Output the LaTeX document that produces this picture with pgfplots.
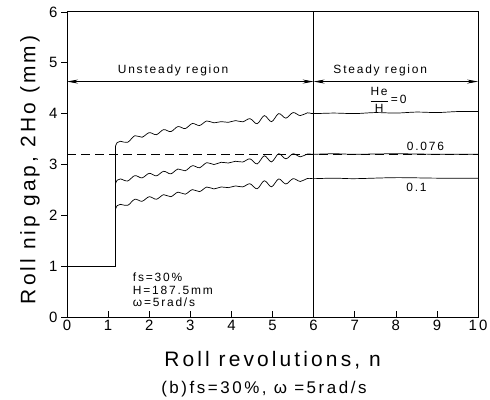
\documentclass[border=0pt]{standalone}
\usepackage{pgfplots}
\pgfplotsset{compat=1.18}
\usepackage{fontspec}
\setmainfont{Liberation Sans}
\newfontfamily\lab[LetterSpace=15]{Liberation Sans}
\usetikzlibrary{arrows.meta}
\begin{document}
\begin{tikzpicture}
\begin{axis}[
  scale only axis, width=411bp, height=305bp,
  xmin=0, xmax=10, ymin=0, ymax=6,
  xtick={0,1,...,10}, ytick={0,1,...,6},
  xtick pos=bottom, ytick pos=left,
  tick align=inside,
  major tick length=6bp,
  y tick style={xshift=-6bp},
  yticklabel style={xshift=-6bp},
  tick style={black, line width=0.6bp},
  tick label style={font=\lab\fontsize{15}{15}\selectfont},
  /pgf/number format/assume math mode=true,
  axis line style={line width=0.8bp},
  clip=false,
]
% step parts
\addplot[black, line width=0.9bp] coordinates {(0,0) (0,1) (1.18,1) (1.18,3.36)};
\addplot[black, line width=0.7bp] coordinates {(1.18,1) (1.18,2.62)};
\addplot[black, line width=0.7bp] coordinates {(1.18,1) (1.18,2.12)};
% He/H = 0
\addplot[black, line width=0.7bp, smooth, tension=0.55] coordinates {
(1.18,3.36) (1.22,3.43) (1.30,3.455) (1.475,3.435) (1.65,3.565) (1.825,3.535)
(2.0,3.625) (2.175,3.585) (2.35,3.685) (2.525,3.645) (2.7,3.745) (2.875,3.705)
(3.05,3.805) (3.225,3.765) (3.4,3.855) (3.575,3.818) (3.75,3.842) (3.925,3.828)
(4.1,3.862) (4.275,3.838) (4.45,3.90) (4.625,3.80) (4.8,3.96) (4.975,3.84)
(5.15,4.00) (5.325,3.91) (5.5,4.02) (5.675,3.96) (5.85,4.015) (6.0,4.0)
(6.5,4.01) (7.0,4.0) (7.5,4.02) (8.0,4.01) (8.5,4.03) (9.0,4.02) (9.5,4.04) (10.0,4.04)};
% He/H = 0.076
\addplot[black, line width=0.7bp, smooth, tension=0.55] coordinates {
(1.18,2.62) (1.22,2.69) (1.30,2.715) (1.475,2.675) (1.65,2.78) (1.825,2.735)
(2.0,2.825) (2.175,2.775) (2.35,2.865) (2.525,2.815) (2.7,2.91) (2.875,2.875)
(3.05,2.975) (3.225,2.935) (3.4,3.035) (3.575,2.998) (3.75,3.042) (3.925,3.028)
(4.1,3.062) (4.275,3.048) (4.45,3.11) (4.625,3.01) (4.8,3.17) (4.975,3.05)
(5.15,3.21) (5.325,3.11) (5.5,3.21) (5.675,3.15) (5.85,3.205) (6.0,3.2)
(6.5,3.21) (7.0,3.2) (8.0,3.21) (9.0,3.2) (10.0,3.2)};
% He/H = 0.1
\addplot[black, line width=0.7bp, smooth, tension=0.55] coordinates {
(1.18,2.12) (1.22,2.19) (1.30,2.215) (1.475,2.195) (1.65,2.315) (1.825,2.275)
(2.0,2.365) (2.175,2.315) (2.35,2.405) (2.525,2.365) (2.7,2.455) (2.875,2.415)
(3.05,2.505) (3.225,2.465) (3.4,2.555) (3.575,2.518) (3.75,2.557) (3.925,2.543)
(4.1,2.577) (4.275,2.558) (4.45,2.62) (4.625,2.52) (4.8,2.68) (4.975,2.56)
(5.15,2.715) (5.325,2.615) (5.5,2.72) (5.675,2.665) (5.85,2.725) (6.0,2.72)
(6.5,2.73) (7.0,2.72) (8.0,2.74) (9.0,2.73) (10.0,2.73)};
% dashed reference line and region divider
\addplot[black, line width=0.7bp, dash pattern=on 9bp off 5bp] coordinates {(0,3.2) (10,3.2)};
\addplot[black, line width=0.8bp] coordinates {(6,0) (6,6)};
% region arrows
\draw[line width=0.7bp, {Stealth[length=11bp,width=4bp]}-{Stealth[length=11bp,width=4bp]}] (axis cs:0,4.63) -- (axis cs:6,4.63);
\draw[line width=0.7bp, {Stealth[length=11bp,width=4bp]}-{Stealth[length=11bp,width=4bp]}] (axis cs:6,4.63) -- (axis cs:10,4.63);
\node[font=\lab\fontsize{12}{12}\selectfont] at (axis cs:2.58,4.85) {Unsteady region};
\node[font=\lab\fontsize{12}{12}\selectfont] at (axis cs:7.62,4.85) {Steady region};
\node[font=\lab\fontsize{12}{12}\selectfont, anchor=west, inner sep=0pt] at (axis cs:7.35,4.27)
  {$\displaystyle\frac{\mbox{He}}{\mbox{H}}$\,=\,0};
\node[font=\lab\fontsize{12}{12}\selectfont] at (axis cs:8.72,3.36) {0.076};
\node[font=\lab\fontsize{12}{12}\selectfont] at (axis cs:8.5,2.55) {0.1};
\node[font=\lab\fontsize{12}{12.5}\selectfont, anchor=north west, align=left, inner sep=0pt] at (axis cs:1.6,0.87)
  {fs=30\%\\H=187.5mm\\ω=5rad/s};
% axis labels and caption
\node[font=\lab\fontsize{21}{21}\selectfont, rotate=90] at (rel axis cs:-0.090,0.482) {Roll nip gap, 2Ho (mm)};
\node[font=\lab\fontsize{21}{21}\selectfont] at (rel axis cs:0.500,-0.141) {Roll revolutions, n};
\node[font=\lab\fontsize{17}{17}\selectfont] at (rel axis cs:0.479,-0.236) {(b)fs=30\%, ω =5rad/s};
\coordinate (bbSW) at (rel axis cs:-0.163,-0.272);
\coordinate (bbNE) at (rel axis cs:1.029,1.039);
\end{axis}
\pgfresetboundingbox
\useasboundingbox (bbSW) rectangle (bbNE);
\end{tikzpicture}
\end{document}
